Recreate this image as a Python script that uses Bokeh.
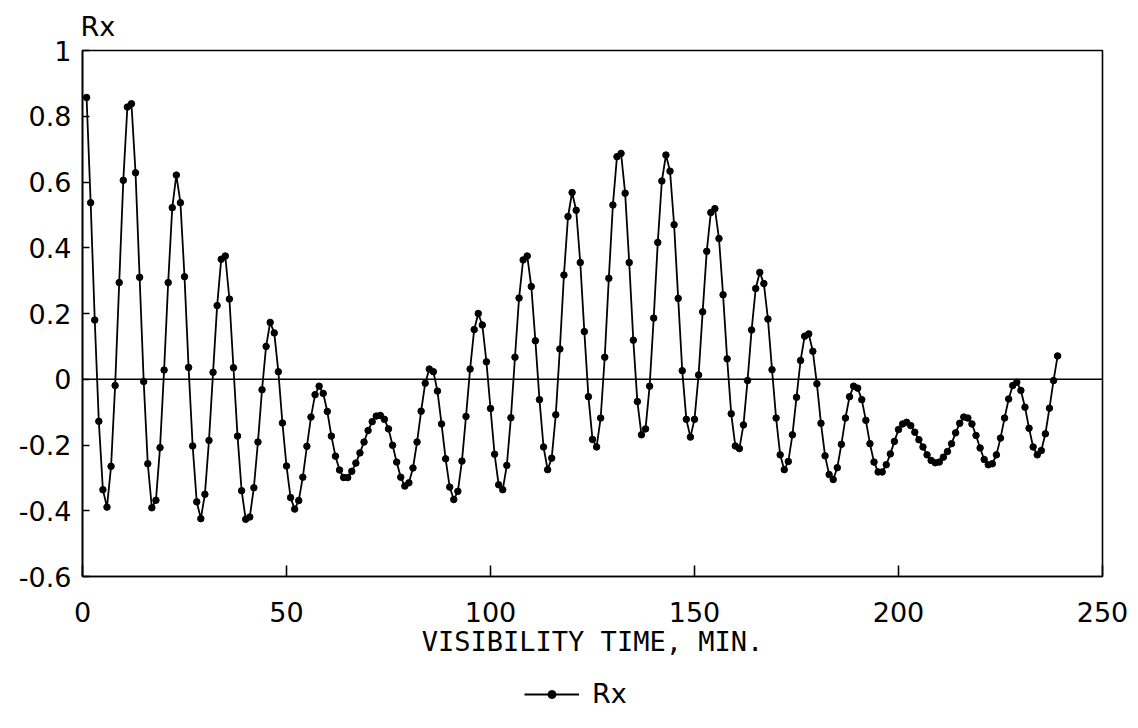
from bokeh.plotting import figure
from bokeh.layouts import column
from bokeh.models import Range1d, FixedTicker, Span, Legend, LegendItem
from bokeh.embed import file_html
from bokeh.resources import INLINE

# ---- data ----
minutes = list(range(1, 240))
rx = [
    0.857, 0.537, 0.180, -0.128, -0.336, -0.389, -0.265, -0.019, 0.294, 0.605,
    0.828, 0.838, 0.628, 0.310, -0.007, -0.257, -0.391, -0.368, -0.208, 0.028,
    0.294, 0.522, 0.621, 0.537, 0.312, 0.036, -0.203, -0.373, -0.424, -0.350,
    -0.186, 0.021, 0.224, 0.365, 0.375, 0.244, 0.035, -0.173, -0.339, -0.426,
    -0.419, -0.330, -0.191, -0.032, 0.100, 0.173, 0.141, 0.023, -0.133, -0.264,
    -0.360, -0.395, -0.369, -0.298, -0.204, -0.115, -0.047, -0.021, -0.043, -0.098,
    -0.173, -0.234, -0.276, -0.299, -0.299, -0.280, -0.255, -0.224, -0.191, -0.156,
    -0.129, -0.112, -0.110, -0.122, -0.151, -0.201, -0.252, -0.298, -0.325, -0.315,
    -0.270, -0.191, -0.097, -0.012, 0.031, 0.023, -0.036, -0.136, -0.242, -0.328,
    -0.366, -0.341, -0.249, -0.113, 0.031, 0.151, 0.200, 0.165, 0.053, -0.089,
    -0.228, -0.321, -0.336, -0.262, -0.117, 0.067, 0.247, 0.363, 0.375, 0.282,
    0.117, -0.062, -0.206, -0.275, -0.240, -0.108, 0.092, 0.317, 0.495, 0.568,
    0.514, 0.355, 0.145, -0.053, -0.183, -0.206, -0.118, 0.067, 0.307, 0.530,
    0.677, 0.687, 0.566, 0.355, 0.119, -0.068, -0.169, -0.151, -0.021, 0.186,
    0.416, 0.603, 0.682, 0.633, 0.470, 0.246, 0.026, -0.122, -0.176, -0.122,
    0.013, 0.205, 0.389, 0.507, 0.519, 0.428, 0.257, 0.062, -0.105, -0.203,
    -0.211, -0.139, -0.004, 0.150, 0.276, 0.325, 0.291, 0.183, 0.029, -0.118,
    -0.230, -0.275, -0.250, -0.169, -0.055, 0.057, 0.131, 0.138, 0.085, -0.014,
    -0.134, -0.233, -0.290, -0.305, -0.269, -0.198, -0.118, -0.053, -0.021, -0.027,
    -0.062, -0.125, -0.196, -0.252, -0.282, -0.282, -0.260, -0.227, -0.189, -0.153,
    -0.136, -0.131, -0.141, -0.161, -0.184, -0.206, -0.230, -0.247, -0.254, -0.252,
    -0.237, -0.220, -0.196, -0.163, -0.134, -0.115, -0.118, -0.136, -0.171, -0.209,
    -0.244, -0.260, -0.257, -0.230, -0.179, -0.118, -0.060, -0.019, -0.009, -0.034,
    -0.085, -0.149, -0.206, -0.230, -0.217, -0.166, -0.088, -0.004, 0.071,
]
x_ticks = [0, 50, 100, 150, 200, 250]
y_ticks = [-0.6, -0.4, -0.2, 0, 0.2, 0.4, 0.6, 0.8, 1]
y_tick_labels = ["-0.6", "-0.4", "-0.2", "0", "0.2", "0.4", "0.6", "0.8", "1"]
x_title = "VISIBILITY TIME, MIN."
y_title = "Rx"
series_name = "Rx"

FONT = "DejaVu Sans"
TITLE_FONT = "DejaVu Sans Mono"
FS = "27px"
W = 1130

p = figure(width=W, height=672, output_backend="svg", toolbar_location=None,
           x_range=Range1d(0, 250), y_range=Range1d(-0.6, 1.0),
           min_border_left=82, min_border_right=28, min_border_top=49,
           min_border_bottom=96, title=y_title)
p.background_fill_color = "white"
p.border_fill_color = "white"
p.outline_line_color = "black"
p.outline_line_width = 1.6
p.grid.visible = False

# "Rx" label above the top-left corner of the frame
p.title.align = "left"
p.title.offset = -2
p.title.standoff = 17
p.title.text_font = FONT
p.title.text_font_size = FS
p.title.text_font_style = "normal"
p.title.text_color = "black"

# x axis
xa = p.xaxis[0]
xa.ticker = FixedTicker(ticks=x_ticks)
xa.major_tick_in = 11
xa.major_tick_out = 0
xa.minor_tick_line_color = None
xa.axis_line_width = 1.6
xa.major_tick_line_width = 1.6
xa.major_label_text_font = FONT
xa.major_label_text_font_size = FS
xa.major_label_text_color = "black"
xa.major_label_standoff = 25
xa.axis_label = x_title
xa.axis_label_text_font = TITLE_FONT
xa.axis_label_text_font_size = FS
xa.axis_label_text_font_style = "normal"
xa.axis_label_text_color = "black"
xa.axis_label_standoff = 1

# y axis
ya = p.yaxis[0]
ya.ticker = FixedTicker(ticks=y_ticks)
ya.major_label_overrides = dict(zip(y_ticks, y_tick_labels))
ya.major_tick_in = 7
ya.major_tick_out = 0
ya.minor_tick_line_color = None
ya.axis_line_width = 1.6
ya.major_tick_line_width = 1.6
ya.major_label_text_font = FONT
ya.major_label_text_font_size = FS
ya.major_label_text_color = "black"
ya.major_label_standoff = 11

# zero line
p.add_layout(Span(location=0, dimension="width", line_color="black", line_width=1.6))

p.line(minutes, rx, line_color="black", line_width=1.8)
p.scatter(minutes, rx, marker="circle", size=6.5, fill_color="black", line_color="black")

# ---- legend strip below the chart (same series; its view shows only the key) ----
lg = figure(width=W, height=48, output_backend="svg", toolbar_location=None,
            x_range=Range1d(-3, -2), y_range=Range1d(-3, -2),
            x_axis_location=None, y_axis_location=None, min_border=0)
lg.outline_line_color = None
lg.grid.visible = False
lg.background_fill_color = "white"
lg.border_fill_color = "white"
l_line = lg.line(minutes, rx, line_color="black", line_width=1.8)
l_dot = lg.scatter(minutes, rx, marker="circle", size=6.5, fill_color="black",
                   line_color="black")
legend = Legend(items=[LegendItem(label=series_name, renderers=[l_line, l_dot])],
                orientation="horizontal", location=(442, 11),
                border_line_color=None, background_fill_alpha=0,
                label_text_font=FONT, label_text_font_size=FS,
                label_text_color="black",
                glyph_width=55, glyph_height=20, padding=0, margin=0,
                spacing=0, label_standoff=13)
lg.add_layout(legend)

layout = column(p, lg, spacing=0)
open("out.html", "w").write(file_html(layout, INLINE))
